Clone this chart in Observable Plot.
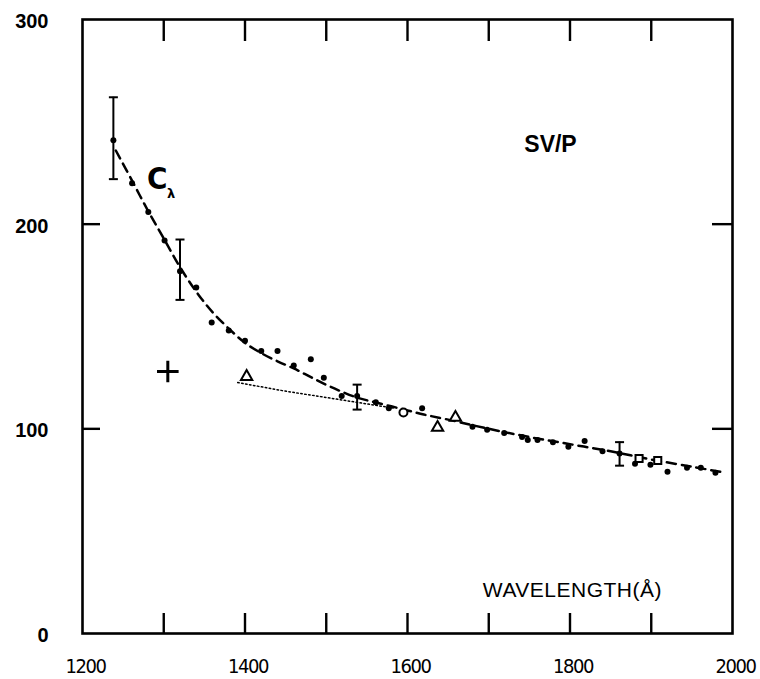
<!DOCTYPE html>
<html>
<head>
<meta charset="utf-8">
<script src="https://cdn.jsdelivr.net/npm/d3@7"></script>
<script src="https://cdn.jsdelivr.net/npm/@observablehq/plot@0.6"></script>
<style>
  html, body { margin: 0; padding: 0; background: white; }
</style>
</head>
<body>
<div id="chart"></div>
<script>
// ---- data ----
const xTickLabels = [1200, 1400, 1600, 1800, 2000];
const yTickLabels = [0, 100, 200, 300];
const xInnerTicks = [1300, 1400, 1500, 1600, 1700, 1800, 1900];
const yInnerTicks = [100, 200];

// filled points
const dotX = [1238,1261,1281,1301,1320,1340,1359,1380,1400,1420,1440,1460,1481,1497,1519,1538,1561,1577,1618,1680,1698,1719,1741,1748,1760,1779,1798,1818,1840,1861,1880,1899,1920,1944,1961,1979];
const dotY = [241,220,206,192,177,169,152,148,143,138,138,131,134,125,116,116,113,110,110,101,99.6,98,96,94.5,94.6,93.4,91.3,94,89,88,83,82.5,79,81,81,78.6];

// open symbols
const triX = [1402, 1637, 1659];
const triY = [125.5, 100.6, 105.5];
const circX = [1595];
const circY = [108];
const sqX = [1885, 1908];
const sqY = [85.5, 84.5];
const plusX = [1305];
const plusY = [128];

// error bars
const errX = [1238, 1320, 1538, 1861];
const errLo = [222, 163, 109.4, 82];
const errHi = [262, 192.5, 121.6, 93.5];

// dashed C_lambda curve
const curveX = [1241,1260,1280,1300,1320,1340,1360,1380,1400,1420,1440,1460,1480,1500,1520,1540,1560,1580,1600,1620,1650,1700,1750,1800,1850,1900,1950,1985];
const curveY = [236,222,207,193,179,167,157,149,142,137,133,129.5,125.5,121.5,118,115,113,111,109,107,104.5,100,96,92.5,89,85,81.5,79];

// dotted line
const dottedX = [1391, 1447, 1585];
const dottedY = [122.6, 118.6, 110];

// text labels
const labelText = ["SV/P", "WAVELENGTH(Å)"];
const labelX = [1776, 1803];
const labelY = [239, 21];

// ---- build tables ----
const zip = (xs, ys) => xs.map((x, i) => ({x, y: ys[i]}));
const dots = zip(dotX, dotY);
const tris = zip(triX, triY);
const circs = zip(circX, circY);
const sqs = zip(sqX, sqY);
const pluses = zip(plusX, plusY);
const curve = zip(curveX, curveY);
const dotted = zip(dottedX, dottedY);
const errs = errX.map((x, i) => ({x, lo: errLo[i], hi: errHi[i]}));
const labels = labelText.map((t, i) => ({t, x: labelX[i], y: labelY[i]}));

const W = 760, H = 679, mL = 82, mR = 28, mT = 19, mB = 46;
const innerW = W - mL - mR, innerH = H - mT - mB;

const hbar = {
  draw(context, size) {
    const r = Math.sqrt(size / Math.PI);
    context.moveTo(-r, 0);
    context.lineTo(r, 0);
  }
};

const chart = Plot.plot({
  width: W,
  height: H,
  marginLeft: mL,
  marginRight: mR,
  marginTop: mT,
  marginBottom: mB,
  style: {fontFamily: "Liberation Sans, Arial, sans-serif", background: "white", color: "black"},
  x: {domain: [1200, 2000]},
  y: {domain: [0, 300]},
  marks: [
    Plot.frame({stroke: "black", strokeWidth: 2.6}),
    // inward ticks
    Plot.tickX(xInnerTicks, {x: d => d, insetBottom: innerH - 22, stroke: "black", strokeWidth: 2.4}),
    Plot.tickX(xInnerTicks, {x: d => d, insetTop: innerH - 20, stroke: "black", strokeWidth: 2.4}),
    Plot.tickY(yInnerTicks, {y: d => d, insetRight: innerW - 18, stroke: "black", strokeWidth: 2.4}),
    Plot.tickY(yInnerTicks, {y: d => d, insetLeft: innerW - 20, stroke: "black", strokeWidth: 2.4}),
    // tick labels
    Plot.axisX({ticks: xTickLabels, tickSize: 0, tickPadding: 25, dx: 3, fontSize: 20,
      fontFamily: "Liberation Sans Narrow, DejaVu Sans Condensed, sans-serif", tickFormat: d => String(d), label: null}),
    Plot.axisY({ticks: yTickLabels, tickSize: 0, tickPadding: 34, dy: 2, fontSize: 20, fontWeight: "bold",
      fontFamily: "Liberation Sans, Arial, sans-serif", tickFormat: d => String(d), label: null}),
    // lines
    Plot.line(dotted, {x: "x", y: "y", stroke: "black", strokeWidth: 1.5, strokeDasharray: "1.5,2.5"}),
    Plot.line(curve, {x: "x", y: "y", curve: "catmull-rom", stroke: "black", strokeWidth: 2.5, strokeDasharray: "9,6"}),
    // error bars
    Plot.ruleX(errs, {x: "x", y1: "lo", y2: "hi", stroke: "black", strokeWidth: 2}),
    Plot.dot(errs, {x: "x", y: "lo", symbol: hbar, r: 4.5, fill: "none", stroke: "black", strokeWidth: 2}),
    Plot.dot(errs, {x: "x", y: "hi", symbol: hbar, r: 4.5, fill: "none", stroke: "black", strokeWidth: 2}),
    // points
    Plot.dot(dots, {x: "x", y: "y", r: 3, fill: "black", stroke: "none"}),
    Plot.dot(tris, {x: "x", y: "y", symbol: "triangle", r: 4.2, fill: "white", stroke: "black", strokeWidth: 2}),
    Plot.dot(circs, {x: "x", y: "y", symbol: "circle", r: 4, fill: "white", stroke: "black", strokeWidth: 2}),
    Plot.dot(sqs, {x: "x", y: "y", symbol: "square", r: 4, fill: "white", stroke: "black", strokeWidth: 2}),
    Plot.dot(pluses, {x: "x", y: "y", symbol: "plus", r: 7, fill: "none", stroke: "black", strokeWidth: 3}),
    // labels
    Plot.text(labels.slice(0, 1), {x: "x", y: "y", text: "t", fontSize: 23, fontWeight: "bold",
      fontFamily: "Liberation Sans, Arial, sans-serif", fill: "black"}),
    Plot.text(labels.slice(1), {x: "x", y: "y", text: "t", fontSize: 21,
      fontFamily: "Liberation Sans, Arial, sans-serif", fill: "black"}),
    Plot.text([{t: "C", x: 1292, y: 222}], {x: "x", y: "y", text: "t", fontSize: 31, fontWeight: "bold",
      fontFamily: "Liberation Sans Narrow, DejaVu Sans Condensed, sans-serif", fill: "black"}),
    Plot.text([{t: "λ", x: 1309, y: 215}], {x: "x", y: "y", text: "t", fontSize: 13, fontWeight: "bold",
      fontFamily: "DejaVu Sans, sans-serif", fill: "black"})
  ]
});

// narrow the x tick label digits like the original's condensed lettering
d3.select(chart).selectAll('g[aria-label="x-axis tick label"] text').style("letter-spacing", "-1.5px");
d3.select(chart).selectAll('g[aria-label="text"] text').filter(function() { return this.textContent === "WAVELENGTH(Å)"; })
  .style("letter-spacing", "0.5px");

document.getElementById("chart").appendChild(chart);
</script>
</body>
</html>
